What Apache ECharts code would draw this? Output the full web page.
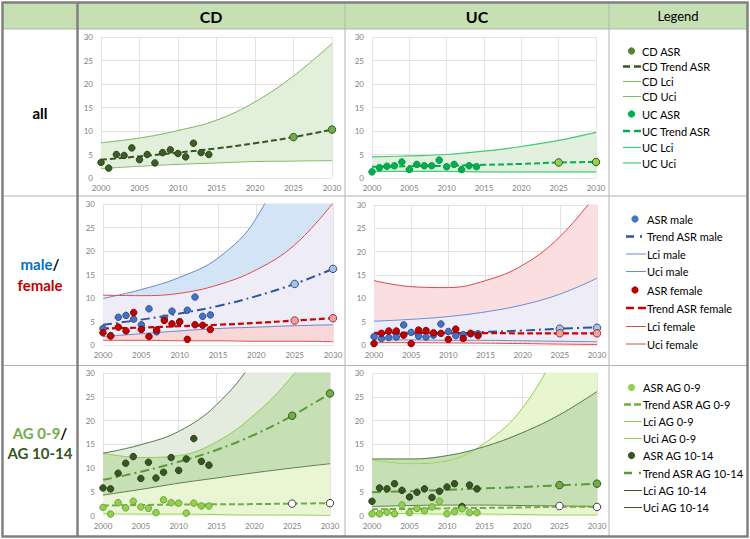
<!DOCTYPE html>
<html><head><meta charset="utf-8">
<script src="https://cdn.jsdelivr.net/npm/echarts@6/dist/echarts.min.js"></script>
<style>html,body{margin:0;padding:0;background:#fff}#c{width:750px;height:539px}</style>
</head><body><div id="c"></div>
<script>
// ---------- data ----------
const obsYears = [2000,2001,2002,2003,2004,2005,2006,2007,2008,2009,2010,2011,2012,2013,2014];
const predYears = [2025,2030];
const curveYears = [2000,2005,2010,2015,2020,2025,2030];

// CD all
const cdAsr = [3.3,2.1,5.0,4.8,6.4,3.9,5.0,3.2,5.4,6.0,5.2,4.5,7.4,5.4,5.0];
const cdAsrPred = [8.7,10.3];
const cdTrend = [3.9,4.6,5.4,6.3,7.4,8.7,10.3];
const cdLci = [2.0,2.5,2.9,3.2,3.5,3.6,3.7];
const cdUci = [7.5,8.5,10.1,12.3,16.2,21.7,28.6];
// UC all
const ucAsr = [1.3,2.2,2.5,2.6,3.4,1.8,2.9,2.6,2.6,3.8,2.4,2.9,1.8,2.6,2.4];
const ucAsrPred = [3.3,3.4];
const ucTrend = [2.4,2.5,2.6,2.8,3.0,3.3,3.4];
const ucLci = [1.4,1.4,1.4,1.3,1.3,1.3,1.3];
const ucUci = [4.5,4.7,5.0,5.7,6.7,8.0,9.7];
// CD male / female
const cdMale = [3.5,2.0,5.9,6.3,5.5,4.3,7.7,2.8,5.7,7.2,5.0,7.4,10.2,6.1,6.4];
const cdMalePred = [13.0,16.2];
const cdMaleTrend = [4.3,5.4,6.7,8.3,10.4,13.0,16.2];
const cdMaleLci = [1.8,2.4,3.0,3.5,3.8,4.1,4.3];
const cdMaleUci = [9.9,11.8,14.4,18.5,27.0,45.0,70.0];
const cdFemale = [2.6,1.9,3.8,3.0,6.9,3.3,1.8,3.2,5.2,4.5,4.9,1.2,4.3,4.2,3.3];
const cdFemalePred = [5.2,5.7];
const cdFemaleTrend = [3.5,3.7,4.0,4.3,4.7,5.2,5.7];
const cdFemaleLci = [1.0,1.0,0.9,0.9,0.8,0.8,0.7];
const cdFemaleUci = [10.6,10.5,11.0,12.8,16.0,21.3,30.2];
// UC male / female
const ucMale = [1.8,1.4,1.6,1.7,4.3,2.7,1.9,1.7,2.1,4.5,2.9,2.0,2.2,2.4,2.4];
const ucMalePred = [3.5,3.7];
const ucMaleTrend = [2.3,2.45,2.6,2.8,3.1,3.5,3.8];
const ucMaleLci = [1.1,1.1,1.0,1.0,0.9,0.8,0.7];
const ucMaleUci = [5.1,5.5,6.1,7.1,8.6,10.9,14.3];
const ucFemale = [0.3,2.5,3.0,3.0,2.1,0.3,3.2,3.1,2.6,2.5,1.2,3.4,1.4,2.5,2.0];
const ucFemalePred = [2.5,2.5];
const ucFemaleTrend = [2.6,2.6,2.55,2.55,2.5,2.5,2.5];
const ucFemaleLci = [0.5,0.5,0.45,0.4,0.3,0.2,0.1];
const ucFemaleUci = [13.8,12.5,12.3,13.8,17.1,23.2,32.5];
// CD age groups
const cdAg09 = [1.7,0.3,2.7,1.6,3.0,1.8,1.5,0.6,3.3,2.7,2.6,0.5,2.6,2.0,2.0];
const cdAg09Pred = [2.5,2.6];
const cdAg09Trend = [2.1,2.2,2.3,2.35,2.4,2.5,2.6];
const cdAg09Lci = [0.4,0.3,0.3,0.2,0.1,0.1,0.0];
const cdAg09Uci = [13.1,12.2,12.6,15.5,21.2,29.3,40.0];
const cdAg1014 = [5.8,5.6,8.9,11.0,12.4,7.8,11.2,7.9,9.1,12.2,9.5,11.9,16.2,11.4,10.6];
const cdAg1014Pred = [21.0,25.7];
const cdAg1014Trend = [7.5,9.2,11.3,13.8,17.0,21.0,25.7];
const cdAg1014Lci = [4.3,5.5,6.8,7.9,9.0,10.0,10.9];
const cdAg1014Uci = [13.1,14.9,17.7,23.3,33.0,48.0,70.0];
// UC age groups
const ucAg09 = [0.35,0.35,0.7,0.35,2.2,0.6,1.5,1.0,1.8,3.0,0.35,0.8,1.4,0.6,0.6];
const ucAg09Pred = [2.0,1.8];
const ucAg09Trend = [1.3,1.4,1.5,1.6,1.7,1.85,1.8];
const ucAg09Lci = [0.5,0.4,0.3,0.3,0.2,0.1,0.1];
const ucAg09Uci = [11.7,10.9,11.5,15.2,22.5,36.0,55.0];
const ucAg1014 = [3.0,5.8,5.6,6.7,5.3,3.9,4.9,5.6,3.8,5.1,6.0,6.7,1.9,6.4,5.6];
const ucAg1014Pred = [6.4,6.7];
const ucAg1014Trend = [4.9,5.1,5.4,5.7,6.0,6.35,6.7];
const ucAg1014Lci = [1.9,2.1,2.2,2.2,2.1,2.0,1.9];
const ucAg1014Uci = [11.9,11.9,12.6,14.5,17.4,21.2,26.1];

// text
const colHeaders = ['CD','UC','Legend'];
const legendAll = ['CD ASR','CD Trend ASR','CD Lci','CD Uci','UC ASR','UC Trend ASR','UC Lci','UC Uci'];
const legendSex = ['ASR male','Trend ASR male','Lci male','Uci male','ASR female','Trend ASR female','Lci female','Uci female'];
const legendAge = ['ASR AG 0-9','Trend ASR AG 0-9','Lci AG 0-9','Uci AG 0-9','ASR AG 10-14','Trend ASR AG 10-14','Lci AG 10-14','Uci AG 10-14'];

// ---------- build ----------
const FONT = 'Lato, "Open Sans", sans-serif';
const SM = 0.4;
const P = (xs, ys) => xs.map((x, i) => [x, ys[i]]);
const series = [];
// opaque fill from the curve down to the axis; later fills paint over earlier ones
function addFill(g, ys, color) {
  series.push({type:'line', xAxisIndex:g, yAxisIndex:g, data:P(curveYears, ys), symbol:'none', smooth:SM,
    lineStyle:{color:color, width:1}, areaStyle:{color:color, opacity:1}, silent:true, z:1});
}
function addLine(g, ys, color, width, type, z) {
  series.push({type:'line', xAxisIndex:g, yAxisIndex:g, data:P(curveYears, ys), symbol:'none', smooth:SM,
    lineStyle:{color:color, width:width, type:type || 'solid'}, silent:true, z:z || 3});
}
function addDots(g, xs, ys, fill, border, size) {
  series.push({type:'scatter', xAxisIndex:g, yAxisIndex:g, data:P(xs, ys), symbolSize:size,
    itemStyle:{color:fill, borderColor:border, borderWidth:1, opacity:1}, silent:true, z:5});
}
const DASH = [6,3], DASHDOT = [9,4,2,4];
const WHITE = '#ffffff';
const OBS = 6.5, PRED = 7.5;

// chart 0: CD all
addFill(0, cdUci, '#e2efda'); addFill(0, cdLci, WHITE);
addLine(0, cdLci, '#7fb85e', 1); addLine(0, cdUci, '#7fb85e', 1);
addLine(0, cdTrend, '#375623', 2, DASH, 4);
addDots(0, obsYears, cdAsr, '#3a5f26', '#2a421a', OBS);
addDots(0, predYears, cdAsrPred, '#70ad47', '#375623', PRED);
// chart 1: UC all
addFill(1, ucUci, '#e3f0e0'); addFill(1, ucLci, WHITE);
addLine(1, ucLci, '#3ccf6e', 1.2); addLine(1, ucUci, '#3ccf6e', 1.2);
addLine(1, ucTrend, '#00b050', 2, DASH, 4);
addDots(1, obsYears, ucAsr, '#00b050', '#009944', OBS);
addDots(1, predYears, ucAsrPred, '#92d050', '#375623', PRED);
// chart 2: CD male/female  (male only / overlap / female only)
addFill(2, cdMaleUci, '#d3e4f6'); addFill(2, cdFemaleUci, '#eeedf7');
addFill(2, cdMaleLci, '#f9d6d7'); addFill(2, cdFemaleLci, WHITE);
addLine(2, cdMaleLci, '#6a8bd0', 1); addLine(2, cdMaleUci, '#6a8bd0', 1);
addLine(2, cdFemaleLci, '#e04848', 1); addLine(2, cdFemaleUci, '#e04848', 1);
addLine(2, cdMaleTrend, '#2f5597', 2, DASHDOT, 4);
addLine(2, cdFemaleTrend, '#d00000', 2.2, DASH, 4);
addDots(2, obsYears, cdMale, '#4472c4', '#2f528f', OBS);
addDots(2, obsYears, cdFemale, '#c00000', '#900000', OBS);
addDots(2, predYears, cdMalePred, '#a9bfe6', '#2f528f', PRED);
addDots(2, predYears, cdFemalePred, '#f4a0a0', '#a03030', PRED);
// chart 3: UC male/female
addFill(3, ucFemaleUci, '#fbdfe0'); addFill(3, ucMaleUci, '#eeedf7');
addFill(3, ucMaleLci, '#fbdfe0'); addFill(3, ucFemaleLci, WHITE);
addLine(3, ucMaleLci, '#6a8bd0', 1); addLine(3, ucMaleUci, '#6a8bd0', 1);
addLine(3, ucFemaleLci, '#e04848', 1); addLine(3, ucFemaleUci, '#e04848', 1);
addLine(3, ucMaleTrend, '#2f5597', 2, DASHDOT, 4);
addLine(3, ucFemaleTrend, '#d00000', 2.2, DASH, 4);
addDots(3, obsYears, ucMale, '#4472c4', '#2f528f', OBS);
addDots(3, obsYears, ucFemale, '#c00000', '#900000', OBS);
addDots(3, predYears, ucMalePred, '#a9bfe6', '#2f528f', PRED);
addDots(3, predYears, ucFemalePred, '#f4a0a0', '#a03030', PRED);
// chart 4: CD age groups
addFill(4, cdAg1014Uci, '#e3ecdf'); addFill(4, cdAg09Uci, '#c6dfb5');
addFill(4, cdAg1014Lci, '#eaf6d3'); addFill(4, cdAg09Lci, WHITE);
addLine(4, cdAg09Lci, '#92d050', 1); addLine(4, cdAg09Uci, '#92d050', 1);
addLine(4, cdAg1014Lci, '#5b7a4c', 1); addLine(4, cdAg1014Uci, '#5b7a4c', 1);
addLine(4, cdAg1014Trend, '#5a9a3c', 2, DASHDOT, 4);
addLine(4, cdAg09Trend, '#70ad47', 2, DASH, 4);
addDots(4, obsYears, cdAg1014, '#375623', '#2a421a', OBS);
addDots(4, obsYears, cdAg09, '#92d050', '#6ea33a', OBS);
addDots(4, predYears, cdAg1014Pred, '#70ad47', '#375623', PRED);
addDots(4, predYears, cdAg09Pred, '#ffffff', '#404040', PRED);
// chart 5: UC age groups
addFill(5, ucAg09Uci, '#e8f6cf'); addFill(5, ucAg1014Uci, '#c6dfb5');
addFill(5, ucAg1014Lci, '#e8f6cf'); addFill(5, ucAg09Lci, WHITE);
addLine(5, ucAg09Lci, '#92d050', 1); addLine(5, ucAg09Uci, '#92d050', 1);
addLine(5, ucAg1014Lci, '#5b7a4c', 1); addLine(5, ucAg1014Uci, '#5b7a4c', 1);
addLine(5, ucAg1014Trend, '#5a9a3c', 2, DASHDOT, 4);
addLine(5, ucAg09Trend, '#70ad47', 2, DASH, 4);
addDots(5, obsYears, ucAg1014, '#375623', '#2a421a', OBS);
addDots(5, obsYears, ucAg09, '#92d050', '#6ea33a', OBS);
addDots(5, predYears, ucAg1014Pred, '#70ad47', '#375623', PRED);
addDots(5, predYears, ucAg09Pred, '#ffffff', '#404040', PRED);

const grids = [
  {left:101, top:37, width:231, height:141},
  {left:372, top:37, width:224, height:141},
  {left:103, top:204, width:230, height:141},
  {left:374, top:205, width:223, height:140},
  {left:103, top:373, width:227, height:142.5},
  {left:372, top:373, width:225, height:142.5}
].map(g => Object.assign({containLabel:false, outerBoundsMode:'none'}, g));

const axLabel = {fontSize:8, color:'#7f7f7f', fontFamily:FONT, formatter:v => String(v)};
const xAxes = grids.map((g,i)=>({type:'value', gridIndex:i, min:2000, max:2030, interval:5,
  axisLine:{show:false}, axisTick:{show:false}, splitLine:{show:true, lineStyle:{color:'#e3e3e3', width:1}},
  axisLabel:Object.assign({margin:6}, axLabel)}));
const yAxes = grids.map((g,i)=>({type:'value', gridIndex:i, min:0, max:30, interval:5,
  axisLine:{show:false}, axisTick:{show:false}, splitLine:{show:true, lineStyle:{color:'#e3e3e3', width:1}},
  axisLabel:Object.assign({margin:8}, axLabel)}));

// ---------- table graphics ----------
const G = [];
G.push({type:'rect', shape:{x:3, y:3, width:744, height:26}, style:{fill:'#c6e0b4'}, z:0});
const thin = '#b4b4b4', thick = '#808080';
[[3,29,747,29],[3,196,747,196],[3,365.5,747,365.5]].forEach(l=>G.push({type:'line', shape:{x1:l[0],y1:l[1],x2:l[2],y2:l[3]}, style:{stroke:thin, lineWidth:1}, z:1}));
[[345,3,345,536],[609,3,609,536]].forEach(l=>G.push({type:'line', shape:{x1:l[0],y1:l[1],x2:l[2],y2:l[3]}, style:{stroke:thin, lineWidth:1}, z:1}));
G.push({type:'line', shape:{x1:77.5,y1:3,x2:77.5,y2:536}, style:{stroke:thick, lineWidth:2.5}, z:1});
G.push({type:'rect', shape:{x:2.5, y:2.5, width:745, height:534}, style:{fill:null, stroke:thick, lineWidth:2.5}, z:1});

const hx = [211, 477, 678];
colHeaders.forEach((t,i)=>G.push({type:'text', x:hx[i], y:16, style:{text:t, fill:'#000',
  font: i<2 ? 'bold 16px ' + FONT : '13px ' + FONT, align:'center', verticalAlign:'middle'}, z:2}));

G.push({type:'text', x:40, y:113, style:{text:'all', fill:'#000', font:'bold 15px ' + FONT, align:'center', verticalAlign:'middle'}, z:2});
G.push({type:'text', x:40, y:274, style:{text:'{m|male}{k|/}\n{f|female}', align:'center', verticalAlign:'middle',
  rich:{m:{fill:'#0070c0', fontSize:15, fontWeight:'bold', fontFamily:FONT, lineHeight:21},
        k:{fill:'#000', fontSize:15, fontWeight:'bold', fontFamily:FONT, lineHeight:21},
        f:{fill:'#c00000', fontSize:15, fontWeight:'bold', fontFamily:FONT, lineHeight:21}}}, z:2});
G.push({type:'text', x:40, y:443, style:{text:'{a|AG 0-9}{k|/}\n{b|AG 10-14}', align:'center', verticalAlign:'middle',
  rich:{a:{fill:'#70ad47', fontSize:15, fontWeight:'bold', fontFamily:FONT, lineHeight:20},
        k:{fill:'#000', fontSize:15, fontWeight:'bold', fontFamily:FONT, lineHeight:20},
        b:{fill:'#375623', fontSize:15, fontWeight:'bold', fontFamily:FONT, lineHeight:20}}}, z:2});

// legends
function legendBlock(labels, ys, mx, lx1, lx2, tx, icons) {
  labels.forEach((t,i)=>{
    const ic = icons[i], y = ys[i];
    if (ic.k === 'dot') G.push({type:'circle', shape:{cx:mx, cy:y, r:3.6}, style:{fill:ic.c}, z:2});
    else G.push({type:'line', shape:{x1:lx1, y1:y, x2:lx2, y2:y}, style:{stroke:ic.c, lineWidth:ic.w, lineDash:ic.d || null}, z:2});
    G.push({type:'text', x:tx, y:y, style:{text:t, fill:'#000', font:'11px ' + FONT, align:'left', verticalAlign:'middle'}, z:2});
  });
}
legendBlock(legendAll, [51,66.5,81.5,96.5,114,131,147.5,163], 631.5, 623, 641, 642, [
  {k:'dot', c:'#548235'}, {k:'ln', c:'#375623', w:2.5, d:[7,4]}, {k:'ln', c:'#7fb85e', w:1}, {k:'ln', c:'#7fb85e', w:1},
  {k:'dot', c:'#00b050'}, {k:'ln', c:'#00b050', w:2.5, d:[7,4]}, {k:'ln', c:'#3ccf6e', w:1.2}, {k:'ln', c:'#3ccf6e', w:1.2}]);
legendBlock(legendSex, [219,236.5,254,271.5,290,308,326.5,344], 635, 626, 646, 647, [
  {k:'dot', c:'#4472c4'}, {k:'ln', c:'#2f5597', w:2.5, d:[8,6,2,20]}, {k:'ln', c:'#6a8bd0', w:1}, {k:'ln', c:'#6a8bd0', w:1},
  {k:'dot', c:'#c00000'}, {k:'ln', c:'#d00000', w:2.5, d:[8,4]}, {k:'ln', c:'#e04848', w:1}, {k:'ln', c:'#e04848', w:1}]);
legendBlock(legendAge, [387.5,404.5,421.5,438.5,455.5,473,490.5,507.5], 631.5, 624, 642, 643, [
  {k:'dot', c:'#92d050'}, {k:'ln', c:'#70ad47', w:2.5, d:[7,3]}, {k:'ln', c:'#92d050', w:1}, {k:'ln', c:'#92d050', w:1},
  {k:'dot', c:'#375623'}, {k:'ln', c:'#5a9a3c', w:2.5, d:[8,7,2,20]}, {k:'ln', c:'#375623', w:1}, {k:'ln', c:'#375623', w:1}]);

const chart = echarts.init(document.getElementById('c'), null, {renderer:'svg'});
chart.setOption({
  animation:false,
  backgroundColor:'#ffffff',
  textStyle:{fontFamily:FONT},
  grid:grids, xAxis:xAxes, yAxis:yAxes, series:series, graphic:G
});
</script></body></html>
